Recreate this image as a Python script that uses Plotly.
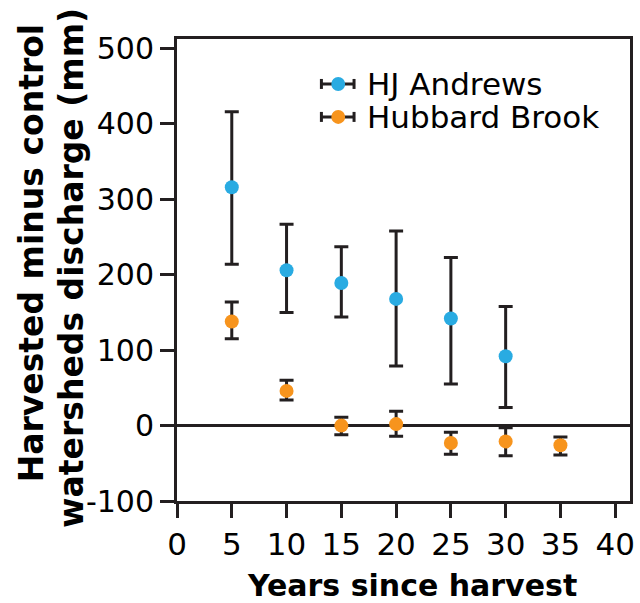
import plotly.graph_objects as go

# Data
years = [5, 10, 15, 20, 25, 30]
hja_mean = [316, 206, 189, 168, 142, 92]
hja_upper = [416, 267, 237, 258, 223, 158]
hja_lower = [214, 150, 144, 79, 55, 24]

years_hb = [5, 10, 15, 20, 25, 30, 35]
hb_mean = [138, 46, 0, 2, -23, -21, -26]
hb_upper = [164, 60, 11, 19, -9, -3, -15]
hb_lower = [115, 34, -12, -14, -38, -40, -39]

series_names = ["HJ Andrews", "Hubbard Brook"]
x_ticks = [0, 5, 10, 15, 20, 25, 30, 35, 40]
y_ticks = [-100, 0, 100, 200, 300, 400, 500]

BLUE = "#29ABE2"
ORANGE = "#F7941D"
INK = "#231F20"
FONT = "DejaVu Sans"

def err(mean, up, lo):
    return dict(type="data", symmetric=False,
                array=[u - m for u, m in zip(up, mean)],
                arrayminus=[m - l for m, l in zip(mean, lo)],
                color=INK, thickness=3, width=7)

fig = go.Figure()
fig.add_trace(go.Scatter(x=years, y=hja_mean, mode="markers", name=series_names[0],
                         marker=dict(color=BLUE, size=14),
                         error_y=err(hja_mean, hja_upper, hja_lower)))
fig.add_trace(go.Scatter(x=years_hb, y=hb_mean, mode="markers", name=series_names[1],
                         marker=dict(color=ORANGE, size=14),
                         error_y=err(hb_mean, hb_upper, hb_lower)))

W, H = 640, 603
L, R, T = 177, 5, 39
BOTTOM_PX = 501.5
B = H - BOTTOM_PX
pw = W - L - R
ph = H - T - B

def px(xp):
    return (xp - L) / pw

def py(yp):
    return (BOTTOM_PX - yp) / ph

# custom legend (icon = marker with horizontal whisker, like the original)
shapes = []
annotations = []
for name, color, yc in [(series_names[0], BLUE, 84), (series_names[1], ORANGE, 117)]:
    x0, x1, xc = 323, 356, 340
    shapes.append(dict(type="line", xref="paper", yref="paper",
                       x0=px(x0), x1=px(x1), y0=py(yc), y1=py(yc),
                       line=dict(color=INK, width=3)))
    for xe in (x0, x1):
        shapes.append(dict(type="line", xref="paper", yref="paper",
                           x0=px(xe), x1=px(xe), y0=py(yc - 5), y1=py(yc + 5),
                           line=dict(color=INK, width=3)))
    shapes.append(dict(type="circle", xref="paper", yref="paper",
                       x0=px(xc - 7), x1=px(xc + 7), y0=py(yc + 7), y1=py(yc - 7),
                       fillcolor=color, line=dict(color=color, width=0)))
    annotations.append(dict(text=name, xref="paper", yref="paper",
                            x=px(367), y=py(yc), xanchor="left", yanchor="middle",
                            showarrow=False, font=dict(size=31, family=FONT, color="black")))

annotations += [
    dict(text="<b>Years since harvest</b>", xref="paper", yref="paper",
         x=px(414.5), y=py(586), xanchor="center", yanchor="middle",
         showarrow=False, font=dict(size=30, family=FONT, color="black")),
    dict(text="<b>Harvested minus control</b>", xref="paper", yref="paper",
         x=px(30), y=py(253), xanchor="center", yanchor="middle", textangle=-90,
         showarrow=False, font=dict(size=33, family=FONT, color="black")),
    dict(text="<b>watersheds discharge (mm)</b>", xref="paper", yref="paper",
         x=px(71), y=py(268), xanchor="center", yanchor="middle", textangle=-90,
         showarrow=False, font=dict(size=33, family=FONT, color="black")),
]

fig.update_layout(
    width=W, height=H,
    margin=dict(l=L, r=R, t=T, b=B, pad=0),
    paper_bgcolor="white", plot_bgcolor="white",
    font=dict(family=FONT, color="black"),
    showlegend=False,
    xaxis=dict(range=[0, 41.35], tickvals=x_ticks, ticktext=[str(v) for v in x_ticks],
               showgrid=False, zeroline=False,
               showline=True, linecolor=INK, linewidth=3, mirror=True,
               ticks="outside", ticklen=14, tickwidth=3, tickcolor=INK,
               tickfont=dict(size=31, family=FONT, color="black")),
    yaxis=dict(range=[-100, 512.6], tickvals=y_ticks, ticktext=[str(v) for v in y_ticks],
               showgrid=False, zeroline=True, zerolinecolor=INK, zerolinewidth=3,
               showline=True, linecolor=INK, linewidth=3, mirror=True,
               ticks="outside", ticklen=14, tickwidth=3, tickcolor=INK,
               tickfont=dict(size=30, family=FONT, color="black")),
    shapes=shapes,
    annotations=annotations,
)

fig.write_html("out.html")
